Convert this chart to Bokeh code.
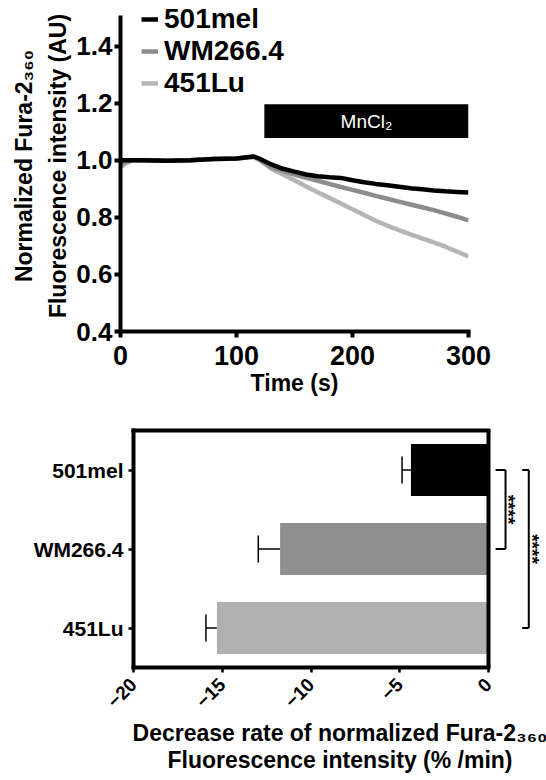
import math
from bokeh.plotting import figure
from bokeh.models import (Range1d, FactorRange, LinearAxis, Legend, LegendItem,
                          ColumnDataSource, Whisker, TeeHead, FixedTicker,
                          NumeralTickFormatter, Span)
from bokeh.embed import file_html
from bokeh.resources import INLINE
from bokeh.core.properties import value

FONT = "Liberation Sans"

# ---------------- data: Fura-2 quench traces (top panel) ----------------
time_s = [0, 5, 10, 20, 40, 60, 80, 100, 115, 120, 130, 140, 150, 160, 170,
          180, 190, 200, 210, 220, 230, 240, 250, 260, 270, 280, 290, 300]
trace_501mel = [1.000, 1.000, 1.000, 1.000, 0.998, 1.000, 1.004, 1.006, 1.013, 1.005,
                0.985, 0.970, 0.960, 0.950, 0.944, 0.940, 0.938, 0.930, 0.923, 0.917,
                0.912, 0.907, 0.902, 0.898, 0.894, 0.891, 0.889, 0.887]
trace_wm266 = [0.985, 0.995, 1.000, 1.000, 0.998, 1.000, 1.004, 1.006, 1.012, 1.002,
               0.975, 0.962, 0.950, 0.938, 0.928, 0.917, 0.906, 0.896, 0.886, 0.875,
               0.865, 0.855, 0.845, 0.835, 0.825, 0.814, 0.802, 0.789]
trace_451lu = [0.975, 0.990, 0.998, 1.000, 0.998, 1.000, 1.004, 1.006, 1.012, 1.000,
               0.970, 0.950, 0.930, 0.908, 0.888, 0.868, 0.848, 0.828, 0.808, 0.788,
               0.771, 0.755, 0.740, 0.726, 0.712, 0.697, 0.680, 0.663]
series_names = ["501mel", "WM266.4", "451Lu"]
series_colors = ["#000000", "#8c8c8c", "#b5b5b5"]

mncl2_label = "MnCl₂"
mncl2_start = 124
mncl2_end = 300
mncl2_bottom = 1.078
mncl2_top = 1.196

x_ticks = [0, 100, 200, 300]
y_ticks = [0.4, 0.6, 0.8, 1.0, 1.2, 1.4]
y_axis_bounds = (0.4, 1.5)

# ---------------- data: decrease rate (bottom panel) ----------------
cell_lines = ["501mel", "WM266.4", "451Lu"]
rate_mean = [-4.37, -11.74, -15.30]
rate_err = [0.50, 1.23, 0.62]
bar_colors = ["#000000", "#8f8f8f", "#b0b0b0"]
rate_ticks = [-20, -15, -10, -5, 0]
rate_bounds = (-20, 0)
comparisons = [("501mel", "WM266.4", "****"), ("501mel", "451Lu", "****")]

# ---------------- style helpers ----------------
def style_axis(ax, label_size, tick_size, lw, tick_out):
    ax.axis_line_width = lw
    ax.axis_line_color = "black"
    ax.axis_line_cap = "square"
    ax.major_tick_line_width = lw
    ax.major_tick_line_color = "black"
    ax.major_tick_out = tick_out
    ax.major_tick_in = 0
    ax.minor_tick_line_color = None
    ax.major_label_text_font = FONT
    ax.major_label_text_font_style = "bold"
    ax.major_label_text_font_size = tick_size
    ax.major_label_text_color = "black"
    ax.axis_label_text_font = FONT
    ax.axis_label_text_font_style = "bold"
    ax.axis_label_text_font_size = label_size
    ax.axis_label_text_color = "black"


def blank_axis(label, label_size, standoff, **kw):
    ax = LinearAxis(ticker=FixedTicker(ticks=[]), axis_label=label, **kw)
    ax.axis_line_color = None
    ax.major_tick_line_color = None
    ax.minor_tick_line_color = None
    ax.major_tick_out = 0
    ax.major_tick_in = 0
    ax.major_label_standoff = 0
    ax.axis_label_standoff = standoff
    ax.axis_label_text_font = FONT
    ax.axis_label_text_font_style = "bold"
    ax.axis_label_text_font_size = label_size
    ax.axis_label_text_color = "black"
    return ax

# ---------------- top panel ----------------
frame_top_px = 331
px_per_au = 285.5
y_top = y_axis_bounds[0] + frame_top_px / px_per_au
p1 = figure(width=546, height=410, x_range=Range1d(0, 300),
            y_range=Range1d(y_axis_bounds[0], y_top),
            output_backend="svg", toolbar_location=None,
            min_border_left=120, min_border_right=78, min_border_top=0,
            min_border_bottom=79)
p1.outline_line_color = None
p1.xgrid.visible = False
p1.ygrid.visible = False

p1.quad(left=[mncl2_start], right=[mncl2_end], bottom=[mncl2_bottom], top=[mncl2_top],
        fill_color="black", line_color=None)
p1.text(x=[(mncl2_start + mncl2_end) / 2], y=[(mncl2_bottom + mncl2_top) / 2],
        text=[mncl2_label], text_color="white", text_font=value(FONT),
        text_font_size="19px", text_align="center", text_baseline="middle")

traces = [trace_501mel, trace_wm266, trace_451lu]
rends = {}
for name, ys, col in reversed(list(zip(series_names, traces, series_colors))):
    rends[name] = p1.line(time_s, ys, line_color=col, line_width=4.5)

xa = p1.xaxis[0]
xa.ticker = FixedTicker(ticks=x_ticks)
xa.axis_label = "Time (s)"
style_axis(xa, "23px", "27px", 4, 6)
xa.major_label_standoff = 8
xa.axis_label_standoff = 2

ya = p1.yaxis[0]
ya.ticker = FixedTicker(ticks=y_ticks)
ya.bounds = y_axis_bounds
ya.formatter = NumeralTickFormatter(format="0.0")
ya.axis_label = "Fluorescence intensity (AU)"
style_axis(ya, "23px", "26px", 4, 6)
ya.major_label_standoff = 2
ya.axis_label_standoff = 2
p1.add_layout(blank_axis("Normalized Fura-2₃₆₀", "23px", 6), "left")

legend = Legend(items=[LegendItem(label=n, renderers=[rends[n]]) for n in series_names],
                location=(21, 232), orientation="vertical")
legend.background_fill_alpha = 0
legend.border_line_color = None
legend.padding = 0
legend.margin = 0
legend.spacing = -8
legend.glyph_width = 17
legend.glyph_height = 26
legend.label_height = 26
legend.label_standoff = 6
legend.label_text_font = FONT
legend.label_text_font_style = "bold"
legend.label_text_font_size = "28px"
legend.label_text_color = "black"
p1.add_layout(legend, "center")

# ---------------- bottom panel ----------------
factors = list(reversed(cell_lines))
px_per_unit = 17.75
x_max = (546 - 133) / px_per_unit + rate_bounds[0]
p2 = figure(width=546, height=370, x_range=Range1d(rate_bounds[0], x_max),
            y_range=FactorRange(factors=factors, range_padding=0),
            output_backend="svg", toolbar_location=None,
            min_border_left=133, min_border_right=0, min_border_top=20,
            min_border_bottom=113)
p2.outline_line_color = None
p2.xgrid.visible = False
p2.ygrid.visible = False

src = ColumnDataSource(dict(
    cl=cell_lines, mean=rate_mean,
    lo=[m - e for m, e in zip(rate_mean, rate_err)],
    color=bar_colors))
p2.hbar(y="cl", left=0, right="mean", height=0.66, fill_color="color",
        line_color=None, source=src)
p2.add_layout(Whisker(source=src, base="cl", lower="lo", upper="mean",
                      dimension="width", line_color="black", line_width=1.5,
                      lower_head=TeeHead(size=27, line_width=1.5, line_color="black"),
                      upper_head=None))

bx = p2.xaxis[0]
bx.ticker = FixedTicker(ticks=rate_ticks)
bx.bounds = rate_bounds
bx.major_label_orientation = math.pi / 4
bx.axis_label = "Decrease rate of normalized Fura-2₃₆₀"
style_axis(bx, "23px", "19px", 4, 5)
bx.major_tick_line_width = 2.5
bx.major_label_standoff = 9
bx.axis_label_standoff = 4
p2.add_layout(blank_axis("Fluorescence intensity (% /min)", "23px", -3,
                         bounds=rate_bounds), "below")

by = p2.yaxis[0]
style_axis(by, "21px", "21px", 4, 5)
by.major_tick_line_width = 2.5
by.major_label_standoff = 5

# top and right edges of the plot box (box spans the value axis only)
top_ax = LinearAxis(ticker=FixedTicker(ticks=[]), bounds=rate_bounds)
top_ax.axis_line_width = 4
top_ax.axis_line_cap = "square"
top_ax.major_tick_out = 0
top_ax.major_tick_in = 0
top_ax.major_label_standoff = 0
top_ax.axis_label_standoff = 0
top_ax.major_label_text_font_size = "0px"
top_ax.axis_label_text_font_size = "0px"
p2.add_layout(top_ax, "above")
p2.add_layout(Span(location=rate_bounds[1], dimension="height", line_color="black",
                   line_width=4))

# significance brackets
pos = {f: i + 0.5 for i, f in enumerate(factors)}
bracket_x = [0.96, 2.27]
bracket_cap = [0.56, 0.37]
star_x = [1.12, 2.48]
for (a, b, lab), x0, cap, sx in zip(comparisons, bracket_x, bracket_cap, star_x):
    p2.segment(x0=[x0 - cap, x0, x0 - cap], y0=[a, a, b],
               x1=[x0, x0, x0], y1=[a, b, b], line_color="black", line_width=2)
    p2.text(x=[sx], y=[(pos[a] + pos[b]) / 2], text=[lab], angle=-math.pi / 2,
            text_font=value(FONT), text_font_size="19px", text_font_style="bold",
            text_align="center", text_baseline="middle", text_color="#000000")

open("out.html", "w").write(file_html([p1, p2], INLINE))
